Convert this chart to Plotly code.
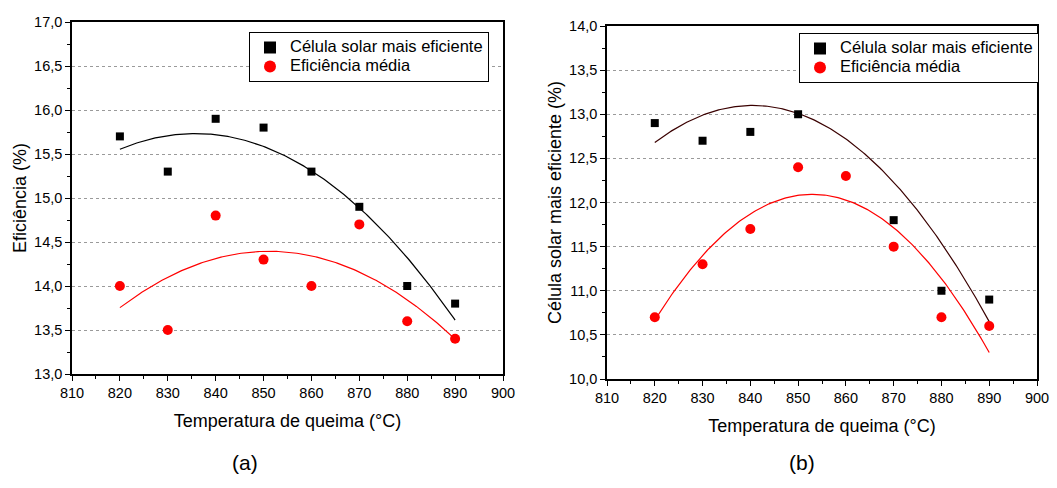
import numpy as np
import plotly.graph_objects as go

# Firing temperature (°C)
temps = [820, 830, 840, 850, 860, 870, 880, 890]

# (a) efficiency of the best cell and the mean efficiency (%)
best_a = [15.7, 15.3, 15.9, 15.8, 15.3, 14.9, 14.0, 13.8]
mean_a = [14.0, 13.5, 14.8, 14.3, 14.0, 14.7, 13.6, 13.4]

# (b) second batch; no best-cell value at 860 °C
temps_best_b = [820, 830, 840, 850, 870, 880, 890]
best_b = [12.9, 12.7, 12.8, 13.0, 11.8, 11.0, 10.9]
mean_b = [10.7, 11.3, 11.7, 12.4, 12.3, 11.5, 10.7, 10.6]

# Parabolic trend published for the best cell in (b): vertex temperature,
# peak efficiency and curvature  ->  y = peak + curv * (T - T_vertex)^2
trend_best_b = [840.5, 13.1, -0.001]

label_best = "Célula solar mais eficiente"
label_mean = "Eficiência média"

FONT = "Liberation Sans, Arial, sans-serif"
W, H = 1057, 488
LEGEND_TEXT_PX = 16.5


def quad_fit(x, y):
    coef = np.polyfit(x, y, 2)
    xs = np.linspace(min(x), max(x), 200)
    return xs, np.polyval(coef, xs)


def vertex_curve(x, params):
    t0, peak, curv = params
    xs = np.linspace(min(x), max(x), 200)
    return xs, peak + curv * (xs - t0) ** 2


def legend_label(text):
    # larger glyphs than the legend's base size, keeping compact row spacing
    return f"<span style='font-size:{LEGEND_TEXT_PX}px'>{text}</span>"


fig = go.Figure()


def add_panel(n, xs_best, y_best, xs_mean, y_mean, best_curve, best_line_color, legend_name):
    xa = "x" if n == 1 else f"x{n}"
    ya = "y" if n == 1 else f"y{n}"
    fx, fy = best_curve
    fig.add_trace(go.Scatter(x=fx, y=fy, mode="lines", xaxis=xa, yaxis=ya,
                             line=dict(color=best_line_color, width=1.2),
                             showlegend=False, hoverinfo="skip"))
    fx, fy = quad_fit(xs_mean, y_mean)
    fig.add_trace(go.Scatter(x=fx, y=fy, mode="lines", xaxis=xa, yaxis=ya,
                             line=dict(color="#ff0000", width=1.2),
                             showlegend=False, hoverinfo="skip"))
    fig.add_trace(go.Scatter(x=xs_best, y=y_best, mode="markers",
                             name=legend_label(label_best),
                             xaxis=xa, yaxis=ya, legend=legend_name,
                             marker=dict(symbol="square", size=8, color="black")))
    fig.add_trace(go.Scatter(x=xs_mean, y=y_mean, mode="markers",
                             name=legend_label(label_mean),
                             xaxis=xa, yaxis=ya, legend=legend_name,
                             marker=dict(symbol="circle", size=10, color="#ff0000")))


add_panel(1, temps, best_a, temps, mean_a, quad_fit(temps, best_a), "black", "legend")
add_panel(2, temps_best_b, best_b, temps, mean_b,
          vertex_curve(temps_best_b, trend_best_b), "#3a0000", "legend2")


def px_x(p):
    return p / W


def px_y(p):
    return 1 - p / H


common_x = dict(range=[810, 900], dtick=10, tick0=810, showline=True, mirror=True,
                linecolor="black", linewidth=1.5, ticks="outside", ticklen=5,
                tickwidth=1.2, tickcolor="black", showgrid=False, zeroline=False,
                automargin=False,
                tickfont=dict(family=FONT, size=14.5, color="black"),
                minor=dict(ticks="outside", ticklen=3, dtick=5, tickcolor="black",
                           tickwidth=1.2, showgrid=False),
                title=dict(text="Temperatura de queima (°C)", standoff=14,
                           font=dict(family=FONT, size=18, color="black")))
common_y = dict(dtick=0.5, tickformat=".1f", showline=True, mirror=True,
                linecolor="black", linewidth=1.5, ticks="outside", ticklen=5,
                tickwidth=1.2, tickcolor="black", showgrid=True, gridcolor="#9a9a9a",
                griddash="dot", gridwidth=1, zeroline=False, automargin=False,
                tickfont=dict(family=FONT, size=14.5, color="black"),
                minor=dict(ticks="outside", ticklen=3, dtick=0.25, tickcolor="black",
                           tickwidth=1.2, showgrid=False))

legend_common = dict(xanchor="left", yanchor="top", bordercolor="black",
                     borderwidth=1, bgcolor="white",
                     font=dict(family=FONT, size=12, color="black"),
                     tracegroupgap=0, itemsizing="constant")

fig.update_layout(
    width=W, height=H,
    margin=dict(l=0, r=0, t=0, b=0, autoexpand=False),
    paper_bgcolor="white", plot_bgcolor="white",
    separators=",.",
    font=dict(family=FONT, color="black"),
    xaxis=dict(common_x, domain=[px_x(72), px_x(503)], anchor="y"),
    yaxis=dict(common_y, range=[13.0, 17.0], domain=[px_y(374), px_y(22)], anchor="x",
               title=dict(text="Eficiência (%)", standoff=3,
                          font=dict(family=FONT, size=18, color="black"))),
    xaxis2=dict(common_x, domain=[px_x(607), px_x(1037)], anchor="y2"),
    yaxis2=dict(common_y, range=[10.0, 14.0], domain=[px_y(379), px_y(26)], anchor="x2",
                title=dict(text="Célula solar mais eficiente (%)", standoff=3,
                           font=dict(family=FONT, size=18, color="black"))),
    legend=dict(legend_common, x=px_x(249), y=px_y(32)),
    legend2=dict(legend_common, x=px_x(799), y=px_y(33)),
    annotations=[
        dict(text="(a)", x=px_x(245), y=px_y(462), xref="paper", yref="paper",
             xanchor="center", yanchor="middle", showarrow=False,
             font=dict(family=FONT, size=21, color="black")),
        dict(text="(b)", x=px_x(802), y=px_y(462), xref="paper", yref="paper",
             xanchor="center", yanchor="middle", showarrow=False,
             font=dict(family=FONT, size=21, color="black")),
    ],
)

fig.write_html("out.html")
